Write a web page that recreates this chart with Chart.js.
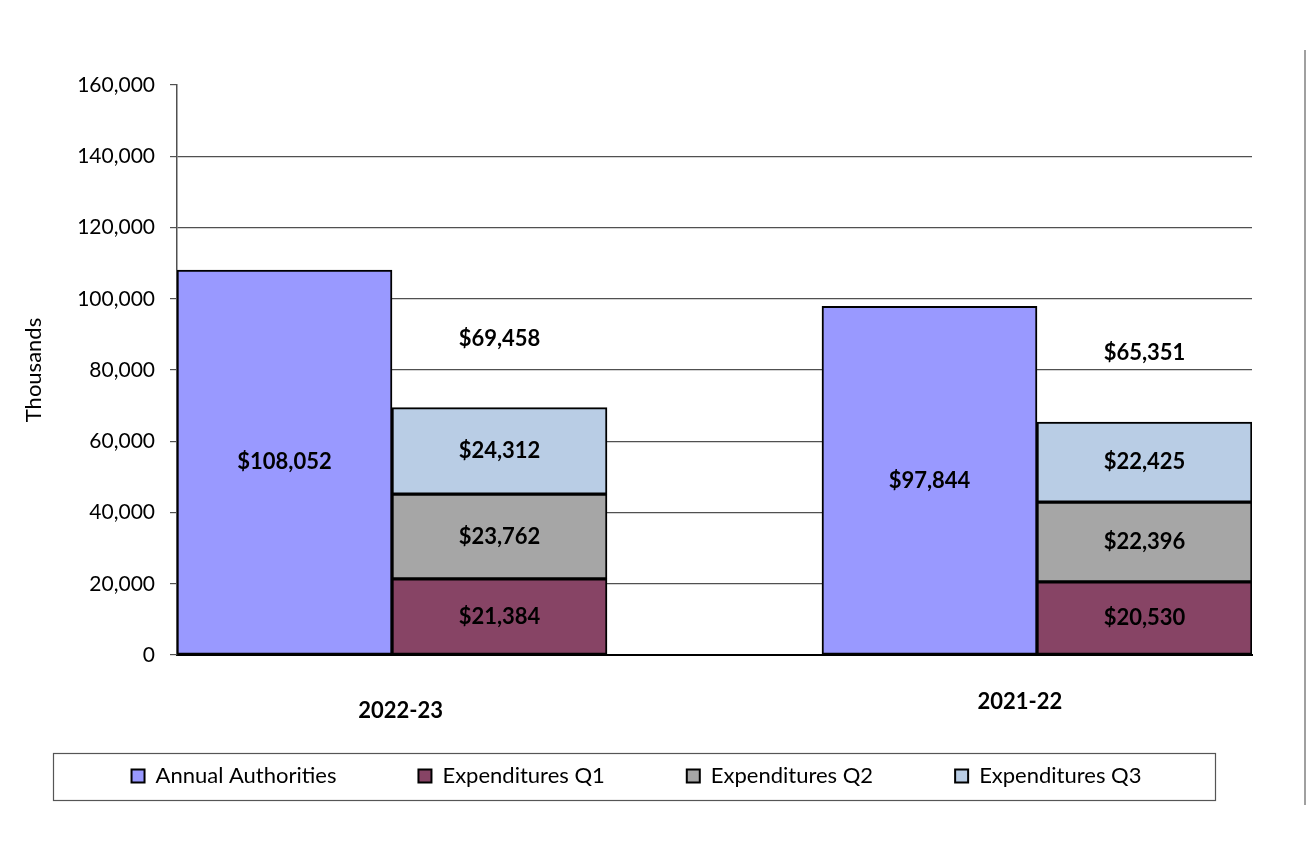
<!DOCTYPE html>
<html>
<head>
<meta charset="utf-8">
<script src="https://cdn.jsdelivr.net/npm/chart.js@4.4.1/dist/chart.umd.min.js"></script>
<style>
html,body{margin:0;padding:0;background:#fff;}
#wrap{width:1312px;height:847px;position:relative;}
</style>
</head>
<body>
<div id="wrap"><canvas id="c" width="1312" height="847"></canvas></div>
<script>
// ---- data ----
const categories = ['2022-23', '2021-22'];
const slots = ['2022-23 Authorities', '2022-23 Expenditures', '', '2021-22 Authorities', '2021-22 Expenditures'];
const annualAuthorities = [108052, null, null, 97844, null];
const expendituresQ1 = [null, 21384, null, null, 20530];
const expendituresQ2 = [null, 23762, null, null, 22396];
const expendituresQ3 = [null, 24312, null, null, 22425];
const expenditureTotals = [null, 69458, null, null, 65351];
const yTicks = [0, 20000, 40000, 60000, 80000, 100000, 120000, 140000, 160000];

const FONT = 'Lato, "Open Sans", sans-serif';
Chart.defaults.font.family = FONT;
Chart.defaults.color = '#000';

const fmt = v => '$' + v.toLocaleString('en-US');

const labelPlugin = {
  id: 'labels',
  afterDatasetsDraw(chart) {
    const ctx = chart.ctx;
    ctx.save();
    ctx.font = 'bold 22px ' + FONT;
    ctx.fillStyle = '#000';
    ctx.textAlign = 'center';
    ctx.textBaseline = 'middle';
    chart.data.datasets.forEach((ds, di) => {
      const meta = chart.getDatasetMeta(di);
      meta.data.forEach((el, i) => {
        const v = ds.data[i];
        if (v == null) return;
        ctx.fillText(fmt(v), el.x, (el.y + el.base) / 2);
      });
    });
    // totals above expenditure stacks
    const q3 = chart.getDatasetMeta(3);
    expenditureTotals.forEach((t, i) => {
      if (t == null) return;
      const el = q3.data[i];
      ctx.fillText(fmt(t), el.x, el.y - 69);
    });
    // category labels
    const xs = chart.scales.x;
    const catPos = [[0.54, 711], [3.42, 702]];
    categories.forEach((c, i) => {
      ctx.fillText(c, xs.getPixelForValue(catPos[i][0]), catPos[i][1]);
    });
    ctx.restore();
  },
  afterDraw(chart) {
    const ctx = chart.ctx;
    ctx.save();
    // legend frame
    ctx.strokeStyle = '#555';
    ctx.lineWidth = 1.2;
    ctx.strokeRect(53.5, 753.5, 1162, 47);
    // right-side vertical rule
    ctx.strokeStyle = '#a0a0a0';
    ctx.lineWidth = 2;
    ctx.beginPath();
    ctx.moveTo(1305, 50);
    ctx.lineTo(1305, 805);
    ctx.stroke();
    ctx.restore();
  }
};

const common = { borderColor: '#000', borderWidth: 2, borderSkipped: false, barPercentage: 1, categoryPercentage: 1 };

new Chart(document.getElementById('c'), {
  type: 'bar',
  data: {
    labels: slots,
    datasets: [
      Object.assign({ label: 'Annual Authorities', data: annualAuthorities, backgroundColor: '#9999FF' }, common),
      Object.assign({ label: 'Expenditures Q1', data: expendituresQ1, backgroundColor: '#874465' }, common),
      Object.assign({ label: 'Expenditures Q2', data: expendituresQ2, backgroundColor: '#A6A6A6' }, common),
      Object.assign({ label: 'Expenditures Q3', data: expendituresQ3, backgroundColor: '#B9CDE5' }, common)
    ]
  },
  options: {
    responsive: false,
    animation: false,
    devicePixelRatio: 1,
    layout: { padding: { left: 21, right: 60, top: 85, bottom: 50 } },
    plugins: {
      tooltip: { enabled: false },
      legend: {
        position: 'bottom',
        labels: {
          boxWidth: 13, boxHeight: 13, padding: 82,
          font: { size: 22, family: FONT }, color: '#000'
        }
      }
    },
    scales: {
      x: {
        stacked: true,
        ticks: { display: false },
        grid: { display: false },
        border: { display: true, color: '#000', width: 2 },
        afterFit(s) { s.height = 28; }
      },
      y: {
        stacked: true,
        min: 0, max: 160000,
        afterBuildTicks(s) { s.ticks = yTicks.map(v => ({ value: v })); },
        ticks: {
          padding: 15,
          font: { size: 21, family: FONT },
          color: '#000',
          callback: v => v.toLocaleString('en-US')
        },
        grid: {
          color: c => (c.tick && (c.tick.value === 160000 || c.tick.value === 0)) ? 'rgba(0,0,0,0)' : '#505050',
          tickColor: '#505050',
          tickLength: 7,
          lineWidth: 1.2
        },
        border: { display: true, color: '#505050', width: 1.5 },
        title: {
          display: true, text: 'Thousands', padding: 0,
          font: { size: 22, family: FONT }, color: '#000'
        },
        afterFit(s) { s.width = 156; }
      }
    }
  },
  plugins: [labelPlugin]
});
</script>
</body>
</html>
